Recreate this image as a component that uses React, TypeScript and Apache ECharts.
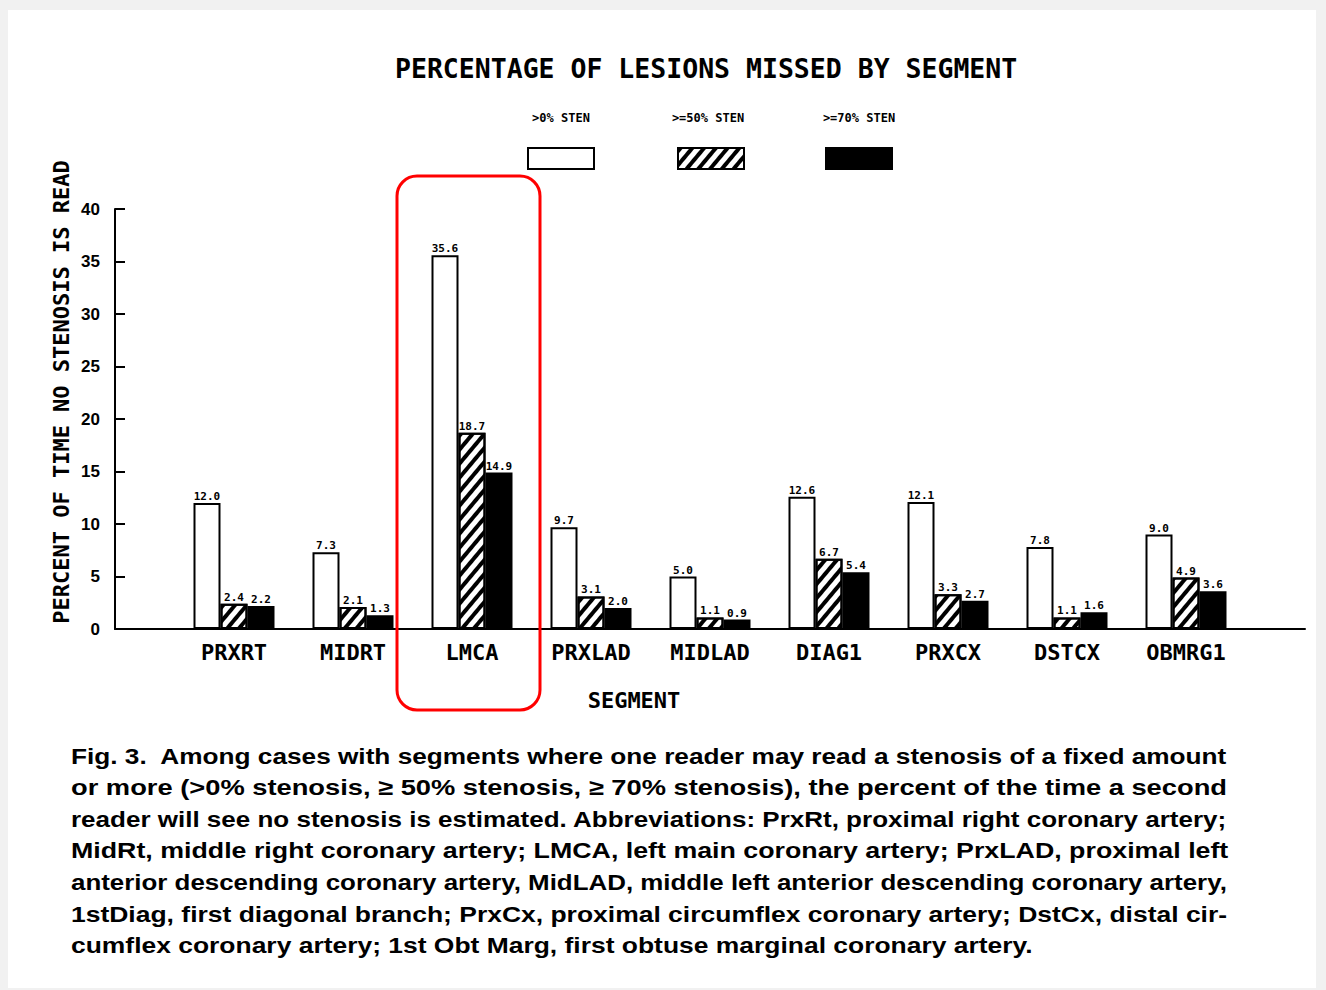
import React, { useEffect, useRef } from "react";
import * as echarts from "echarts";

const categories = ["", "PRXRT", "MIDRT", "LMCA", "PRXLAD", "MIDLAD", "DIAG1", "PRXCX", "DSTCX", "OBMRG1", ""];
const seriesNames = [">0% STEN", ">=50% STEN", ">=70% STEN"];
const sten0 = [null, 12.0, 7.3, 35.6, 9.7, 5.0, 12.6, 12.1, 7.8, 9.0, null];
const sten50 = [null, 2.4, 2.1, 18.7, 3.1, 1.1, 6.7, 3.3, 1.1, 4.9, null];
const sten70 = [null, 2.2, 1.3, 14.9, 2.0, 0.9, 5.4, 2.7, 1.6, 3.6, null];
const yMin = 0;
const yMax = 40;
const yStep = 5;

const titleText = "PERCENTAGE OF LESIONS MISSED BY SEGMENT";
const yName = "PERCENT OF TIME NO STENOSIS IS READ";
const xName = "SEGMENT";
const captionLines = [
  "Fig. 3.  Among cases with segments where one reader may read a stenosis of a fixed amount",
  "or more (>0% stenosis, \u2265 50% stenosis, \u2265 70% stenosis), the percent of the time a second",
  "reader will see no stenosis is estimated. Abbreviations: PrxRt, proximal right coronary artery;",
  "MidRt, middle right coronary artery; LMCA, left main coronary artery; PrxLAD, proximal left",
  "anterior descending coronary artery, MidLAD, middle left anterior descending coronary artery,",
  "1stDiag, first diagonal branch; PrxCx, proximal circumflex coronary artery; DstCx, distal cir-",
  "cumflex coronary artery; 1st Obt Marg, first obtuse marginal coronary artery.",
];

const MONO = "DejaVu Sans Mono";
const SANS = "Liberation Sans";

function measure(text: string, font: string): number {
  const c = document.createElement("canvas").getContext("2d");
  if (!c) return text.length * 12;
  c.font = font;
  return c.measureText(text).width;
}

export default function App() {
  const ref = useRef<HTMLDivElement>(null);
  useEffect(() => {
    if (!ref.current) return;
    const chart = echarts.init(ref.current, null, { renderer: "svg" });

    const labelCfg = {
      show: true,
      position: "top",
      distance: 1,
      fontFamily: MONO,
      fontWeight: "bold",
      fontSize: 11,
      color: "#000",
      formatter: (p: any) => (p.value == null ? "" : Number(p.value).toFixed(1)),
    };

    const capFont = `bold 22px "${SANS}"`;
    const capLeft = 71;
    const capWidth = 1157;
    const capTop = 756;
    const capLH = 31.6;
    const scales: number[] = [];
    const capEls: any[] = captionLines.map((line, i) => {
      const w = measure(line, capFont);
      let s = capWidth / w;
      if (i === captionLines.length - 1) {
        s = scales.reduce((a, b) => a + b, 0) / scales.length;
      } else {
        scales.push(s);
      }
      return {
        type: "text",
        x: capLeft,
        y: capTop + i * capLH,
        scaleX: s,
        style: {
          text: line,
          font: capFont,
          fill: "#000",
          textAlign: "left",
          textVerticalAlign: "middle",
        },
      };
    });

    const legendLabelX = [561, 708, 859];
    const legendBoxX = [527, 677, 825];

    const option: any = {
      animation: false,
      backgroundColor: "#f1f1f1",
      title: {
        text: titleText,
        left: 395,
        top: 55,
        padding: 0,
        textStyle: { fontFamily: MONO, fontWeight: "bold", fontSize: 26.5, color: "#000" },
      },
      legend: seriesNames.map((n, i) => ({
        data: [n],
        left: legendBoxX[i],
        top: 147,
        padding: 0,
        itemWidth: 66,
        itemHeight: 21,
        itemGap: 0,
        icon: "rect",
        selectedMode: false,
        formatter: () => "",
        textStyle: { fontSize: 1 },
      })),
      grid: { left: 115, top: 209, width: 1190, height: 420, containLabel: false },
      xAxis: {
        type: "category",
        data: categories,
        boundaryGap: false,
        axisLine: { show: true, lineStyle: { color: "#000", width: 2 } },
        axisTick: { show: false },
        axisLabel: {
          interval: 0,
          margin: 12,
          fontFamily: MONO,
          fontWeight: "bold",
          fontSize: 22,
          color: "#000",
        },
        splitLine: { show: false },
      },
      yAxis: {
        type: "value",
        min: yMin,
        max: yMax,
        interval: yStep,
        axisLine: { show: true, lineStyle: { color: "#000", width: 2 } },
        axisTick: { show: true, inside: true, length: 10, lineStyle: { color: "#000", width: 2 } },
        axisLabel: { margin: 15, fontFamily: SANS, fontWeight: "bold", fontSize: 17, color: "#000" },
        splitLine: { show: false },
      },
      series: [
        {
          name: seriesNames[0],
          type: "bar",
          data: sten0,
          barWidth: 27,
          barGap: "0%",
          itemStyle: { color: "#fff", borderColor: "#000", borderWidth: 2 },
          label: labelCfg,
        },
        {
          name: seriesNames[1],
          type: "bar",
          data: sten50,
          barWidth: 27,
          barGap: "0%",
          itemStyle: {
            color: "#fff",
            borderColor: "#000",
            borderWidth: 2,
            decal: {
              symbol: "rect",
              symbolSize: 1,
              color: "#000",
              dashArrayX: [1, 0],
              dashArrayY: [4, 5],
              rotation: (-50 * Math.PI) / 180,
            },
          },
          label: labelCfg,
        },
        {
          name: seriesNames[2],
          type: "bar",
          data: sten70,
          barWidth: 27,
          barGap: "0%",
          itemStyle: { color: "#000", borderColor: "#000", borderWidth: 2 },
          label: labelCfg,
        },
      ],
      graphic: [
        {
          type: "rect",
          z: -10,
          silent: true,
          shape: { x: 8, y: 10, width: 1308, height: 978 },
          style: { fill: "#fff" },
        },
        ...seriesNames.map((n, i) => ({
          type: "text",
          x: legendLabelX[i],
          y: 118,
          style: {
            text: n,
            font: `bold 12px "${MONO}"`,
            fill: "#000",
            textAlign: "center",
            textVerticalAlign: "middle",
          },
        })),
        {
          type: "text",
          x: 61,
          y: 392,
          rotation: Math.PI / 2,
          style: {
            text: yName,
            font: `bold 22px "${MONO}"`,
            fill: "#000",
            textAlign: "center",
            textVerticalAlign: "middle",
          },
        },
        {
          type: "text",
          x: 634,
          y: 700,
          style: {
            text: xName,
            font: `bold 22px "${MONO}"`,
            fill: "#000",
            textAlign: "center",
            textVerticalAlign: "middle",
          },
        },
        ...capEls,
        {
          type: "rect",
          z: 100,
          shape: { x: 397, y: 176, width: 143, height: 534, r: 20 },
          style: { fill: "none", stroke: "#ff0000", lineWidth: 3 },
        },
      ],
    };
    chart.setOption(option);
    return () => chart.dispose();
  }, []);
  return <div ref={ref} style={{ position: "absolute", left: 0, top: 0, width: 1326, height: 990 }} />;
}
